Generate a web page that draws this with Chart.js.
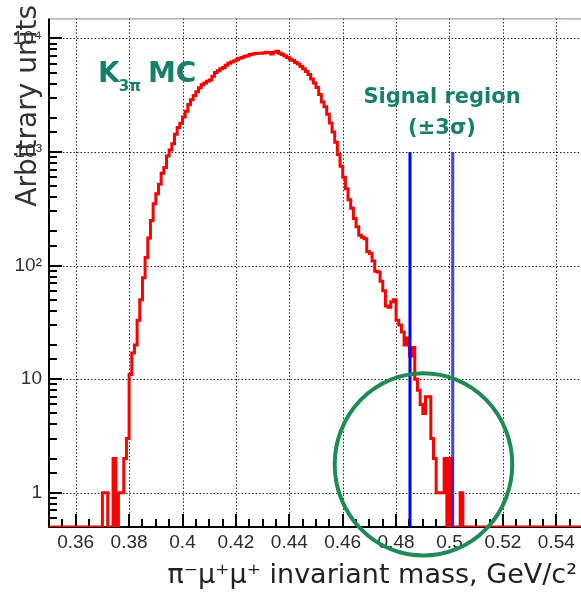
<!DOCTYPE html>
<html>
<head>
<meta charset="utf-8">
<script src="https://cdn.jsdelivr.net/npm/chart.js@4.4.1/dist/chart.umd.min.js"></script>
<style>
    html, body { margin: 0; padding: 0; background: #fff; overflow: hidden; }
    canvas { display: block; }
</style>
</head>
<body>
<canvas id="massChart" width="590" height="592"></canvas>
<script>
// histogram: bins of 0.001 GeV starting at 0.350
const HIST_START = 0.350;
const BIN_WIDTH = 0.001;
const counts = [
    0, 0, 0, 0, 0, 0, 0, 0, 0, 0,                                    // 0.350
    0, 0, 0, 0, 0, 0, 0, 0, 0, 0,                                    // 0.360
    1, 1, 0, 0, 2, 0, 1, 1, 2, 3,                                    // 0.370
    11, 17, 20, 33, 50, 78, 118, 175, 250, 350,                      // 0.380
    430, 520, 650, 730, 920, 1040, 1180, 1430, 1640, 1790,           // 0.390
    2030, 2280, 2620, 2880, 3150, 3400, 3670, 3900, 4050, 4200,      // 0.400
    4300, 4650, 5000, 5200, 5400, 5550, 5800, 6050, 6200, 6330,      // 0.410
    6500, 6700, 6800, 6950, 7050, 7200, 7300, 7350, 7400, 7400,      // 0.420
    7450, 7550, 7500, 7300, 7550, 7700, 7400, 7200, 7000, 6800,      // 0.430
    6550, 6400, 6150, 5950, 5650, 5400, 5100, 4800, 4400, 4050,      // 0.440
    3700, 3200, 2750, 2500, 2150, 1800, 1500, 1220, 950, 750,        // 0.450
    600, 475, 380, 320, 260, 220, 185, 178, 172, 133,                // 0.460
    128, 110, 89, 88, 73, 60, 44, 43, 48, 50,                        // 0.470
    33, 30, 26, 20, 23, 16, 19, 10, 8, 6,                            // 0.480
    5, 7, 7, 3, 2, 1, 1, 1, 2, 0,                                    // 0.490
    2, 0, 0, 0, 1, 0, 0, 0, 0, 0,                                    // 0.500
    0, 0, 0, 0, 0, 0, 0, 0, 0, 0,                                    // 0.510
    0, 0, 0, 0, 0, 0, 0, 0, 0, 0,                                    // 0.520
    0, 0, 0, 0, 0, 0, 0, 0, 0, 0,                                    // 0.530
    0, 0, 0, 0, 0, 0, 0, 0, 0, 0                                     // 0.540
];

// axis range
const X_MIN = 0.35, X_MAX = 0.55;
const Y_MIN = 0.5, Y_MAX = 15000;

// signal window (+-3 sigma)
const signalEdges = [0.4852, 0.5012];
const signalTop = 1000;

// ellipse around the tail, in data units
const circleX = [0.457, 0.5235];
const circleY = [0.28, 11.3];

const xLabelValues = [0.36, 0.38, 0.40, 0.42, 0.44, 0.46, 0.48, 0.50, 0.52, 0.54];
const xLabels = ['0.36', '0.38', '0.4', '0.42', '0.44', '0.46', '0.48', '0.5', '0.52', '0.54'];
const yLabelValues = [1, 10, 100, 1000, 10000];
const yLabels = ['1', '10', '10²', '10³', '10⁴'];

const TEXT_GREEN = '#17806a';
const CIRCLE_GREEN = '#1e8b55';

// empty bins sit on the floor of the log axis
const histPoints = counts.map((c, i) => ({ x: HIST_START + i * BIN_WIDTH, y: c > 0 ? c : Y_MIN }));
histPoints.push({ x: HIST_START + counts.length * BIN_WIDTH, y: Y_MIN });

const near = (a, b) => Math.abs(a - b) < 1e-7 * Math.max(1, Math.abs(b));

const rootFrame = {
    id: 'rootFrame',
    beforeDatasetsDraw(chart) {
        const { ctx, chartArea: a, scales: { x, y } } = chart;
        ctx.save();

        // dotted grid
        ctx.strokeStyle = '#222';
        ctx.lineWidth = 1;
        ctx.setLineDash([1.5, 2]);
        xLabelValues.forEach(v => {
            const px = Math.round(x.getPixelForValue(v)) + 0.5;
            ctx.beginPath(); ctx.moveTo(px, a.top); ctx.lineTo(px, a.bottom); ctx.stroke();
        });
        yLabelValues.forEach(v => {
            const py = Math.round(y.getPixelForValue(v)) + 0.5;
            ctx.beginPath(); ctx.moveTo(a.left, py); ctx.lineTo(a.right, py); ctx.stroke();
        });
        ctx.setLineDash([]);

        // top frame
        ctx.strokeStyle = '#888';
        ctx.beginPath(); ctx.moveTo(a.left, a.top + 0.5); ctx.lineTo(a.right, a.top + 0.5); ctx.stroke();

        // tick marks, pointing inward
        ctx.strokeStyle = '#000';
        ctx.lineWidth = 2;
        x.ticks.forEach(t => {
            if (t.value <= x.min + 1e-6 || t.value >= x.max - 1e-6) return;
            const major = xLabelValues.some(v => near(v, t.value));
            const px = Math.round(x.getPixelForValue(t.value));
            ctx.beginPath(); ctx.moveTo(px, a.bottom); ctx.lineTo(px, a.bottom - (major ? 13 : 8)); ctx.stroke();
        });
        y.ticks.forEach(t => {
            if (t.value <= y.min * 1.0001 || t.value >= y.max * 0.9999) return;
            const major = yLabelValues.some(v => near(v, t.value));
            const py = Math.round(y.getPixelForValue(t.value));
            ctx.beginPath(); ctx.moveTo(a.left, py); ctx.lineTo(a.left + (major ? 13 : 8), py); ctx.stroke();
        });

        // axes
        ctx.beginPath();
        ctx.moveTo(a.left, a.top); ctx.lineTo(a.left, a.bottom); ctx.lineTo(a.right, a.bottom);
        ctx.stroke();
        ctx.restore();
    },
    afterDraw(chart) {
        const { ctx, scales: { x, y } } = chart;
        ctx.save();

        // ellipse around the tail
        const x0 = x.getPixelForValue(circleX[0]), x1 = x.getPixelForValue(circleX[1]);
        const y0 = y.getPixelForValue(circleY[0]), y1 = y.getPixelForValue(circleY[1]);
        ctx.strokeStyle = CIRCLE_GREEN;
        ctx.lineWidth = 4;
        ctx.beginPath();
        ctx.ellipse((x0 + x1) / 2, (y0 + y1) / 2, Math.abs(x1 - x0) / 2, Math.abs(y1 - y0) / 2, 0, 0, Math.PI * 2);
        ctx.stroke();

        // K3pi MC label
        ctx.fillStyle = TEXT_GREEN;
        ctx.textBaseline = 'alphabetic';
        ctx.textAlign = 'left';
        ctx.font = 'bold 28px "DejaVu Sans"';
        ctx.fillText('K', 98, 82);
        const kw = ctx.measureText('K').width;
        ctx.font = 'bold 15px "DejaVu Sans"';
        ctx.fillText('3π', 98 + kw - 1, 91);
        ctx.font = 'bold 28px "DejaVu Sans"';
        ctx.fillText('MC', 148, 82);

        // signal region label
        ctx.textAlign = 'center';
        ctx.font = 'bold 21px "DejaVu Sans"';
        ctx.fillText('Signal region', 442, 103);
        ctx.fillText('(±3σ)', 442, 134);

        // axis titles
        ctx.fillStyle = '#1f1f2a';
        ctx.textAlign = 'right';
        ctx.font = '27px "DejaVu Sans"';
        ctx.fillText('π⁻μ⁺μ⁺ invariant mass, GeV/c²', 577, 583);

        ctx.fillStyle = '#333';
        ctx.translate(36, 5);
        ctx.rotate(-Math.PI / 2);
        ctx.font = '28px "DejaVu Sans"';
        ctx.fillText('Arbitrary units', 0, 0);
        ctx.restore();
    }
};

new Chart(document.getElementById('massChart'), {
    type: 'line',
    data: {
        datasets: [{
            label: 'K3pi MC',
            data: histPoints,
            borderColor: '#ff0000',
            borderWidth: 3,
            pointRadius: 0,
            stepped: 'before',
            fill: false,
            order: 1
        }, {
            label: 'signal low',
            data: [{ x: signalEdges[0], y: Y_MIN }, { x: signalEdges[0], y: signalTop }],
            borderColor: '#0000ff',
            borderWidth: 3,
            pointRadius: 0,
            order: 0
        }, {
            label: 'signal high',
            data: [{ x: signalEdges[1], y: Y_MIN }, { x: signalEdges[1], y: signalTop }],
            borderColor: 'rgba(30, 30, 255, 0.85)',
            borderWidth: 3,
            pointRadius: 0,
            order: 0
        }]
    },
    options: {
        responsive: false,
        animation: false,
        events: [],
        layout: { padding: { top: 16, right: 7, left: 0, bottom: 0 } },
        plugins: { legend: { display: false }, tooltip: { enabled: false } },
        scales: {
            x: {
                type: 'linear',
                min: X_MIN,
                max: X_MAX,
                afterFit: s => { s.height = 65; },
                grid: { display: false, drawTicks: false },
                border: { display: false },
                ticks: {
                    stepSize: 0.005,
                    maxTicksLimit: 100,
                    autoSkip: false,
                    maxRotation: 0,
                    padding: 4,
                    color: '#2b2b2b',
                    font: { family: 'Liberation Sans', size: 19 },
                    callback: value => {
                        const i = xLabelValues.findIndex(v => near(v, value));
                        return i >= 0 ? xLabels[i] : '';
                    }
                }
            },
            y: {
                type: 'logarithmic',
                min: Y_MIN,
                max: Y_MAX,
                afterFit: s => { s.width = 49; },
                grid: { display: false, drawTicks: false },
                border: { display: false },
                ticks: {
                    autoSkip: false,
                    padding: 7,
                    color: '#333',
                    font: { family: 'Liberation Sans', size: 19 },
                    callback: value => {
                        const i = yLabelValues.findIndex(v => near(v, value));
                        return i >= 0 ? yLabels[i] : '';
                    }
                }
            }
        }
    },
    plugins: [rootFrame]
});
</script>
</body>
</html>
